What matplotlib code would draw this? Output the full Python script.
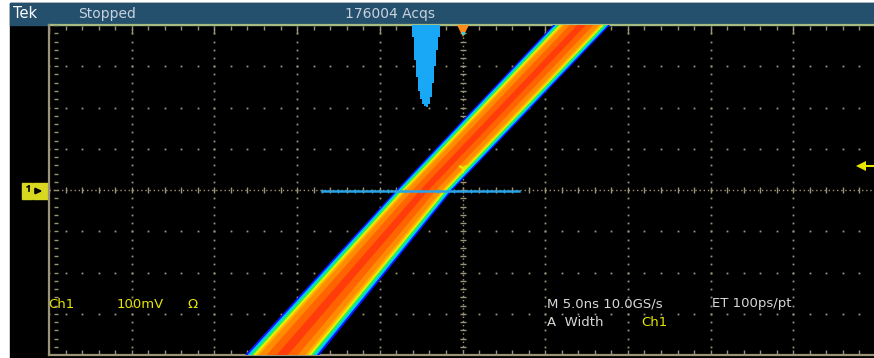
import matplotlib
matplotlib.use("Agg")
import matplotlib.pyplot as plt
from matplotlib.patches import Rectangle
import numpy as np

# ---------------- data ----------------
# persistence band: voltage (mV), centre time (ns), horizontal half-width (ns)
band_v = [-480, -400, 0, 400, 460]
band_t = [-12.6, -10.9, -2.3, 7.2, 8.6]
band_hw = [2.35, 2.25, 1.7, 1.72, 1.72]

# horizontal (time) histogram hanging from the top: bin centres (ns), heights (div)
hist_t = [-3.0, -2.88, -2.76, -2.64, -2.52, -2.4, -2.28, -2.16, -2.04, -1.92, -1.8, -1.68, -1.56, -1.44]
hist_h = [0.3, 0.85, 1.25, 1.6, 1.8, 1.92, 1.97, 1.99, 1.92, 1.75, 1.4, 1.0, 0.6, 0.3]

gate_t = [-8.5, 3.4]          # histogram gate (ns)
gate_v = -2                   # mV
trig_level = 58               # mV
trig_pos = 0.0                # ns

header_texts = ["Tek", "Stopped", "176004 Acqs"]
ch_texts = ["Ch1", "100mV", "Ω"]
time_texts = ["M 5.0ns 10.0GS/s", "ET 100ps/pt"]
meas_texts = ["A  Width", "Ch1"]

# ---------------- figure ----------------
W, H = 874, 358
fig = plt.figure(figsize=(W / 100, H / 100), dpi=100, facecolor="white")

bg = fig.add_axes([0, 0, 1, 1])
bg.set_xlim(0, W)
bg.set_ylim(H, 0)
bg.axis("off")
bg.add_patch(Rectangle((10, 3), W - 10, H - 3, color="black", zorder=0))
bg.add_patch(Rectangle((10, 3), W - 10, 21.5, color="#24506e", zorder=1))

# graticule axes: 10 div x 8 div
gx0, gx1, gy0, gy1 = 49, 876, 25, 355
ax = fig.add_axes([gx0 / W, (H - gy1) / H, (gx1 - gx0) / W, (gy1 - gy0) / H])
ax.set_xlim(-25, 25)
ax.set_ylim(-400, 400)
ax.set_facecolor("none")
ax.axis("off")

gcol = "#9c9478"
sub_t = np.arange(-25, 25.01, 1.0)
sub_v = np.arange(-400, 400.01, 20.0)
for t in np.arange(-20, 25.01, 5):
    if t == 0:
        continue
    ax.plot(np.full_like(sub_v, t), sub_v, ls="none", marker="s", ms=1.3, mew=0, color=gcol, zorder=2)
for v in np.arange(-300, 301, 100):
    if v == 0:
        continue
    ax.plot(sub_t, np.full_like(sub_t, v), ls="none", marker="s", ms=1.3, mew=0, color=gcol, zorder=2)

# centre cross
ax.plot([-25, 25], [0, 0], ls=(0, (1, 2)), lw=1.0, color=gcol, zorder=2)
ax.plot([0, 0], [-400, 400], ls=(0, (1, 2)), lw=1.0, color=gcol, zorder=2)
ax.plot(sub_t, np.zeros_like(sub_t), ls="none", marker="|", ms=4, mew=1.0, color=gcol, zorder=2)
ax.plot(np.zeros_like(sub_v), sub_v, ls="none", marker="_", ms=4, mew=1.0, color=gcol, zorder=2)

# borders
ax.plot([-25, 25], [400, 400], lw=1.6, color="#a6bc80", zorder=3, clip_on=False)
ax.plot([-25, 25], [-400, -400], lw=1.6, color=gcol, zorder=3, clip_on=False)
ax.plot([-25, -25], [-400, 400], lw=1.6, color=gcol, zorder=3, clip_on=False)
major = np.arange(-25, 25.01, 5)
ax.plot(sub_t, np.full_like(sub_t, 393), ls="none", marker="|", ms=3, mew=1.0, color=gcol, zorder=3)
ax.plot(major, np.full_like(major, 386), ls="none", marker="|", ms=5, mew=1.0, color=gcol, zorder=3)
ax.plot(sub_t, np.full_like(sub_t, -393), ls="none", marker="|", ms=3, mew=1.0, color=gcol, zorder=3)
ax.plot(np.full_like(sub_v, -24.6), sub_v, ls="none", marker="_", ms=3, mew=1.0, color=gcol, zorder=3)

# persistence band (colour graded, outer -> inner), fraction of half-width
layers = [("#0a14ff", 1.0), ("#00c8ff", 0.93), ("#20f060", 0.86), ("#e8f000", 0.78),
          ("#ffb000", 0.70), ("#ff8c00", 0.62), ("#ff6400", 0.42), ("#ff3c0a", 0.15)]
bc = np.array(band_t)
bw = np.array(band_hw)
for col, k in layers:
    ax.fill_betweenx(band_v, bc - k * bw, bc + k * bw, color=col, lw=0, zorder=4)

# gate line
ax.plot(gate_t, [gate_v, gate_v], color="#2aa2e6", lw=1.8, zorder=5)
gt = np.arange(gate_t[0], gate_t[1] + 0.01, 1.0)
ax.plot(gt, np.full_like(gt, gate_v), ls="none", marker="|", ms=3, mew=1, color="#2aa2e6", zorder=5)

# time histogram hanging from top
hb = 0.12
xs, ys = [], []
for t, h in zip(hist_t, hist_h):
    xs += [t - hb / 2, t + hb / 2]
    ys += [400 - h * 100, 400 - h * 100]
ax.fill_between(xs, ys, 400, color="#19a8f5", lw=0, zorder=6)

# trigger position marker
ax.plot([trig_pos], [390], marker="v", ms=11, mew=0, color="#ff8c1a", zorder=7)
ax.plot([trig_pos], [380], marker="o", ms=2.5, mew=0, color="#30d0e0", zorder=7)

# trigger level marker (right edge) and small marker near centre
ax.plot([24.1, 25], [trig_level, trig_level], color="#e8e800", lw=1.5, zorder=7, clip_on=False)
ax.plot([24.1], [trig_level], marker="<", ms=7, mew=0, color="#e8e800", zorder=7)
ax.plot([trig_pos], [trig_level - 5], marker="1", ms=7, mew=1.6, color="#e8e800", zorder=7)

# channel marker on the left
bg.add_patch(Rectangle((22, 183), 10, 16, color="#d8d820", zorder=5))
bg.add_patch(Rectangle((33, 183), 15, 16, color="#d8d820", zorder=5))
bg.plot([29, 29], [186, 191], color="black", lw=1.2, zorder=6)
bg.plot([27, 29], [187, 186], color="black", lw=1.0, zorder=6)
bg.annotate("", xy=(45, 191), xytext=(36, 191),
            arrowprops=dict(arrowstyle="-|>", color="black", lw=1.6, mutation_scale=8), zorder=6)

# texts
fam = ["DejaVu Sans"]
hc = "#c8d2dc"
bg.text(13, 14, header_texts[0], fontsize=10.5, color="white", va="center", family=fam, zorder=5)
bg.text(78, 14, header_texts[1], fontsize=10, color=hc, va="center", family=fam, zorder=5)
bg.text(345, 14, header_texts[2], fontsize=10, color=hc, va="center", family=fam, zorder=5)

yc = "#e6e600"
bg.text(48, 304, ch_texts[0], fontsize=9.5, color=yc, va="center", family=fam, zorder=5)
bg.text(117, 304, ch_texts[1], fontsize=9.5, color=yc, va="center", family=fam, zorder=5)
bg.text(188, 304, ch_texts[2], fontsize=9.5, color=yc, va="center", family=fam, zorder=5)

wc = "#d8d8d8"
bg.text(547, 304, time_texts[0], fontsize=9.5, color=wc, va="center", family=fam, zorder=5)
bg.text(712, 304, time_texts[1], fontsize=9.5, color=wc, va="center", family=fam, zorder=5)
bg.text(547, 323, meas_texts[0], fontsize=9.5, color=wc, va="center", family=fam, zorder=5)
bg.text(641, 323, meas_texts[1], fontsize=9.5, color=yc, va="center", family=fam, zorder=5)

fig.savefig("out.png", dpi=100, facecolor=fig.get_facecolor())
